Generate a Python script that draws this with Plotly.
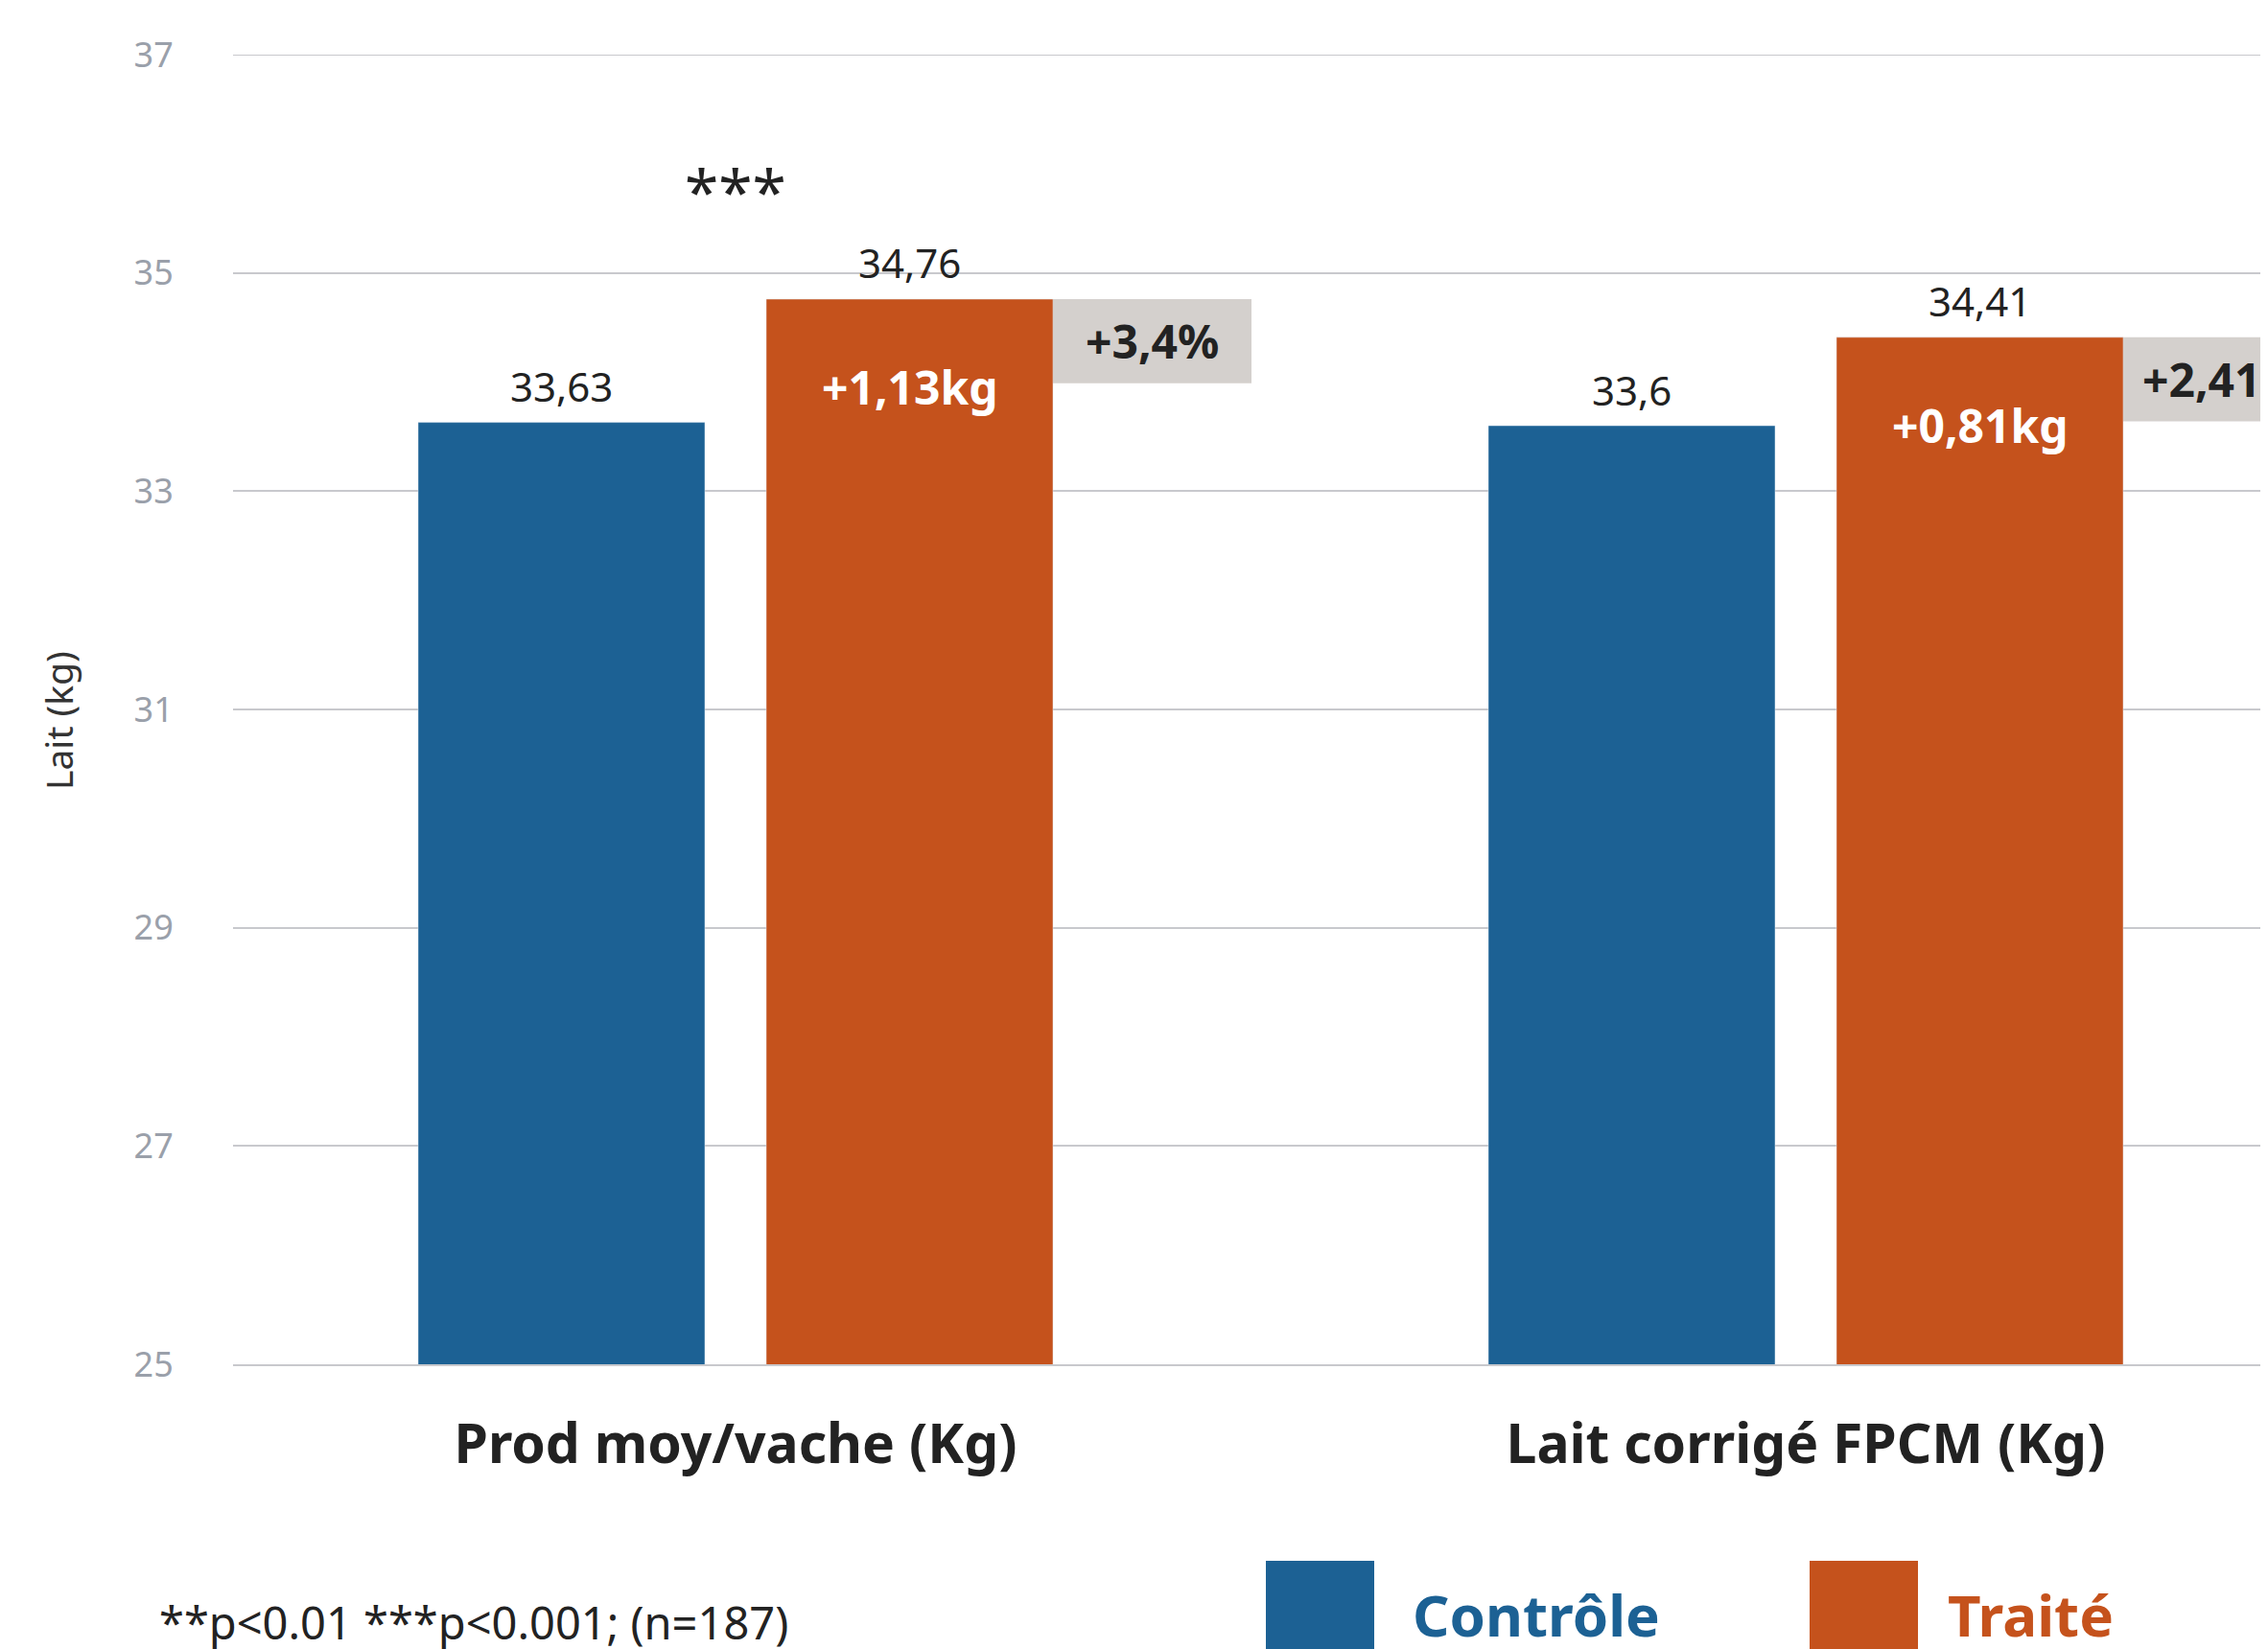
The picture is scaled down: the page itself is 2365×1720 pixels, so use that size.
import plotly.graph_objects as go

# ---- data ----
categories = ["Prod moy/vache (Kg)", "Lait corrigé FPCM (Kg)"]
controle = [33.63, 33.6]
traite = [34.76, 34.41]
gain_labels = ["+1,13kg", "+0,81kg"]
pct_labels = ["+3,4%", "+2,41%"]
signif = ["***", ""]
series_names = ["Contrôle", "Traité"]
y_ticks = [25, 27, 29, 31, 33, 35, 37]
footnote = "**p<0.01 ***p<0.001; (n=187)"
y_title = "Lait (kg)"

# ---- style ----
BLUE = "#1c6194"
ORANGE = "#c5521c"
GREY_BOX = "#d4d0cd"
GRID = "#c8c9cd"
TICK = "#9aa0aa"
DARK = "#222222"
FONT = "Noto Sans"

W, H = 2365, 1720
PAGE = 8                      # browser body margin
SCR_LEFT, SCR_TOP, SCR_BOTTOM = 243, 57, 1423   # plot area on screen
ML = SCR_LEFT - PAGE
MT = SCR_TOP - PAGE
MB = H - (SCR_BOTTOM - PAGE)
PW = W - ML
PH = SCR_BOTTOM - SCR_TOP

def px(sx):
    return (sx - SCR_LEFT) / PW

def py(sy):
    return (SCR_BOTTOM - sy) / PH

cat_px = 1116.0           # pixels between category centres
bar_w = 299 / cat_px      # bar width in x units
off = 181.5 / cat_px      # bar centre offset from category centre
box_w = 207 / cat_px      # width of the grey percentage box
box_h = 0.77              # height of the grey box in y units
x_left = -524 / cat_px
x_right = x_left + PW / cat_px

def fmt(v):
    return str(v).replace(".", ",")

xi = list(range(len(categories)))
x_ctrl = [i - off for i in xi]
x_trt = [i + off for i in xi]

fig = go.Figure()
fig.add_trace(go.Bar(x=x_ctrl, y=controle, width=bar_w, marker_color=BLUE,
                     name=series_names[0], hoverinfo="y"))
fig.add_trace(go.Bar(x=x_trt, y=traite, width=bar_w, marker_color=ORANGE,
                     name=series_names[1], hoverinfo="y"))

ann = []
shapes = []
# top gridline (plotly skips the one on the range edge)
shapes.append(dict(type="line", xref="paper", yref="y", x0=0, x1=1,
                   y0=y_ticks[-1], y1=y_ticks[-1], line=dict(color=GRID, width=2), layer="below"))
for i in xi:
    ann.append(dict(x=x_ctrl[i], y=controle[i], xref="x", yref="y", text=fmt(controle[i]),
                    showarrow=False, yshift=38, xanchor="center", yanchor="middle",
                    font=dict(family=FONT, size=42, color=DARK)))
    ann.append(dict(x=x_trt[i], y=traite[i], xref="x", yref="y", text=fmt(traite[i]),
                    showarrow=False, yshift=38, xanchor="center", yanchor="middle",
                    font=dict(family=FONT, size=42, color=DARK)))
    ann.append(dict(x=x_trt[i], y=traite[i], xref="x", yref="y", text="<b>%s</b>" % gain_labels[i],
                    showarrow=False, yshift=-92, xanchor="center", yanchor="middle",
                    font=dict(family=FONT, size=48, color="white")))
    bx0 = x_trt[i] + bar_w / 2
    shapes.append(dict(type="rect", xref="x", yref="y", x0=bx0, x1=bx0 + box_w,
                       y0=traite[i] - box_h, y1=traite[i], fillcolor=GREY_BOX,
                       line=dict(width=0), layer="above"))
    ann.append(dict(x=bx0 + box_w / 2, y=traite[i] - box_h / 2, xref="x", yref="y",
                    text="<b>%s</b>" % pct_labels[i], showarrow=False,
                    xanchor="center", yanchor="middle",
                    font=dict(family=FONT, size=48, color=DARK)))
    if signif[i]:
        ann.append(dict(x=i, y=traite[i], xref="x", yref="y", text=signif[i],
                        showarrow=False, yshift=112, xanchor="center", yanchor="middle",
                        font=dict(family=FONT, size=64, color=DARK)))

ann.append(dict(x=px(61), y=py(752), xref="paper", yref="paper", xanchor="center", yanchor="middle",
                text=y_title, textangle=-90, showarrow=False,
                font=dict(family=FONT, size=39, color="#333333")))
ann.append(dict(x=px(164), y=py(1692), xref="paper", yref="paper",
                xanchor="left", yanchor="middle", text=footnote, showarrow=False,
                font=dict(family=FONT, size=47, color=DARK)))

legend_items = [(series_names[0], BLUE, 1320, 1471), (series_names[1], ORANGE, 1887, 2029)]
for name, col, sx, tx in legend_items:
    shapes.append(dict(type="rect", xref="paper", yref="paper",
                       x0=px(sx), x1=px(sx + 113),
                       y0=py(1741), y1=py(1628),
                       fillcolor=col, line=dict(width=0)))
    ann.append(dict(x=px(tx), y=py(1684), xref="paper", yref="paper",
                    xanchor="left", yanchor="middle", text="<b>%s</b>" % name, showarrow=False,
                    font=dict(family=FONT, size=60, color=col)))

fig.update_layout(
    width=W, height=H,
    margin=dict(l=ML, r=0, t=MT, b=MB, pad=0),
    paper_bgcolor="white", plot_bgcolor="white",
    barmode="overlay", showlegend=False,
    annotations=ann, shapes=shapes,
    font=dict(family=FONT, color=DARK),
)
fig.update_xaxes(range=[x_left, x_right], tickmode="array", tickvals=xi,
                 ticktext=["<b>%s</b>" % c for c in categories],
                 tickfont=dict(family=FONT, size=57, color=DARK), showgrid=False,
                 zeroline=False, showline=True, linecolor=GRID, linewidth=2,
                 ticks="outside", ticklen=33, tickcolor="rgba(0,0,0,0)", automargin=False)
fig.update_yaxes(range=[25, 37], tickmode="array", tickvals=y_ticks,
                 ticktext=[str(t) for t in y_ticks],
                 tickfont=dict(family=FONT, size=36, color=TICK),
                 showgrid=True, gridcolor=GRID, gridwidth=2, zeroline=False,
                 ticks="outside", ticklen=54, tickcolor="rgba(0,0,0,0)", automargin=False)

fig.write_html("out.html")
